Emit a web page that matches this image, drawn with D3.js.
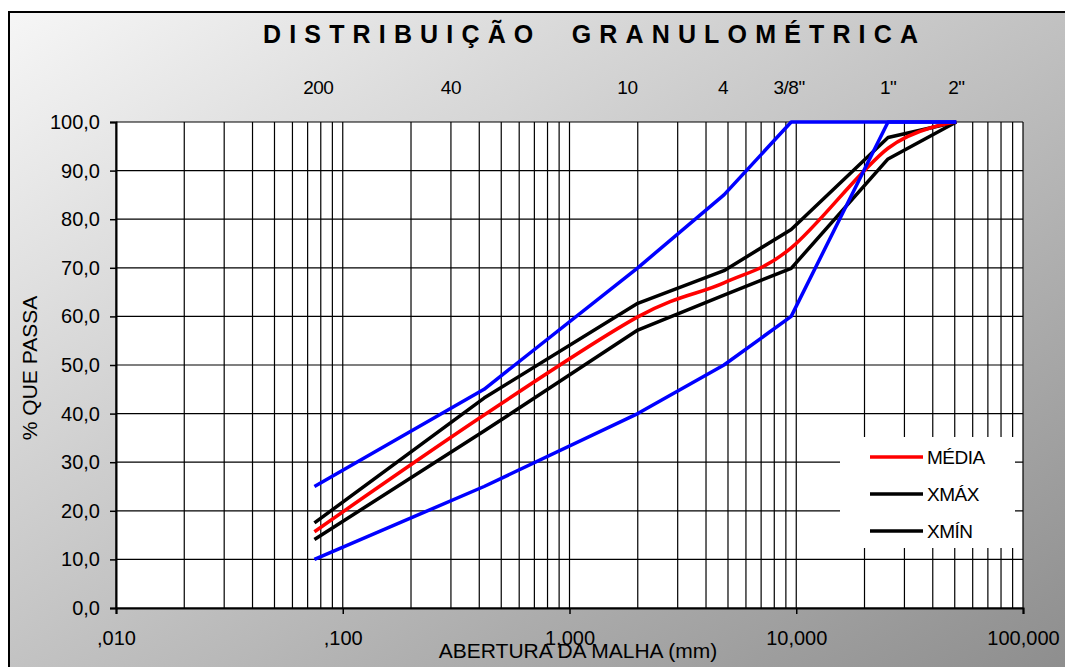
<!DOCTYPE html>
<html>
<head>
<meta charset="utf-8">
<script src="https://cdn.jsdelivr.net/npm/d3@7"></script>
<style>
  body { margin: 0; background: #fff; }
  text { font-family: "Liberation Sans", Arial, sans-serif; fill: #000; }
</style>
</head>
<body>
<div id="chart"></div>
<script>
// sieve openings (mm) used by every curve
var sieves = [0.075, 0.42, 2.0, 4.8, 9.5, 25.4, 50.8];

// % passing for each sieve
var media = [15.7, 39.7, 59.9, 66.9, 74.1, 94.6, 100];
var xmax  = [17.5, 43.2, 62.7, 69.4, 77.9, 96.8, 100];
var xmin  = [14.1, 36.4, 57.2, 64.4, 69.9, 92.4, 100];
var limSup = [25, 45, 70, 85, 100, 100, 100];
var limInf = [10, 25, 40, 50, 60, 100, 100];

// sieve names written along the top, and where they sit (mm)
var sieveLabels = ["200", "40", "10", "4", "3/8\"", "1\"", "2\""];
var sieveLabelAt = [0.078, 0.30, 1.8, 4.75, 9.3, 25.4, 50.8];

var xTicks = [0.01, 0.1, 1, 10, 100];
var xTickLabels = [",010", ",100", "1,000", "10,000", "100,000"];
var yTicks = [0, 10, 20, 30, 40, 50, 60, 70, 80, 90, 100];

var W = 1065, H = 667;
var margin = {top: 122, right: 42, bottom: 59, left: 116},
    width = W - margin.left - margin.right,
    height = H - margin.top - margin.bottom;

var svg = d3.select("#chart").append("svg")
    .attr("width", W)
    .attr("height", H);

var defs = svg.append("defs");
var grad = defs.append("linearGradient")
    .attr("id", "bg")
    .attr("x1", 0).attr("y1", 0).attr("x2", 1).attr("y2", 1);
grad.append("stop").attr("offset", "0%").attr("stop-color", "#f6f6f6");
grad.append("stop").attr("offset", "100%").attr("stop-color", "#8a8a8a");

svg.append("rect").attr("width", W).attr("height", H).attr("fill", "#fff");
svg.append("rect")
    .attr("x", 9).attr("y", 12)
    .attr("width", W + 20).attr("height", H + 20)
    .attr("fill", "url(#bg)")
    .attr("stroke", "#000")
    .attr("stroke-width", 2);

// title
svg.append("text")
    .attr("x", 263).attr("y", 43)
    .attr("textLength", 655)
    .attr("lengthAdjust", "spacing")
    .style("white-space", "pre")
    .style("font-size", "25px")
    .style("font-weight", "bold")
    .text("DISTRIBUIÇÃO  GRANULOMÉTRICA");

var x = d3.scaleLog().domain([0.01, 100]).range([0, width]);
var y = d3.scaleLinear().domain([0, 100]).range([height, 0]);

var g = svg.append("g")
    .attr("transform", "translate(" + margin.left + "," + margin.top + ")");

g.append("rect")
    .attr("width", width).attr("height", height)
    .attr("fill", "#fff");

// grid
var vgrid = [];
[0.01, 0.1, 1, 10].forEach(function(d) {
  for (var k = 1; k <= 9; k++) vgrid.push(d * k);
});
vgrid.push(100);

g.selectAll(".vg").data(vgrid).enter().append("line")
    .attr("x1", function(d) { return x(d); })
    .attr("x2", function(d) { return x(d); })
    .attr("y1", 0).attr("y2", height)
    .attr("stroke", "#000").attr("stroke-width", 1.2);

g.selectAll(".hg").data(yTicks).enter().append("line")
    .attr("x1", 0).attr("x2", width)
    .attr("y1", function(d) { return y(d); })
    .attr("y2", function(d) { return y(d); })
    .attr("stroke", "#000").attr("stroke-width", 1.2);

// axes
var yAxis = g.append("g")
    .call(d3.axisLeft(y).tickValues(yTicks).tickSize(6).tickPadding(10)
      .tickFormat(function(d) { return d3.format(".1f")(d).replace(".", ","); }));
var xAxis = g.append("g")
    .attr("transform", "translate(0," + height + ")")
    .call(d3.axisBottom(x).tickValues(xTicks).tickSize(6).tickPadding(17)
      .tickFormat(function(d, i) { return xTickLabels[i]; }));

[xAxis, yAxis].forEach(function(a) {
  a.select(".domain").attr("stroke", "#000").attr("stroke-width", 2);
  a.selectAll(".tick line").attr("stroke", "#000").attr("stroke-width", 1.5);
  a.selectAll("text").style("font-size", "20px").attr("font-family", null);
});

// sieve names on top
svg.selectAll(".sv").data(sieveLabels).enter().append("text")
    .attr("x", function(d, i) { return margin.left + x(sieveLabelAt[i]); })
    .attr("y", 94)
    .attr("text-anchor", "middle")
    .style("font-size", "19px")
    .style("letter-spacing", "-0.5px")
    .text(function(d) { return d; });

// axis titles
svg.append("text")
    .attr("transform", "translate(37,368) rotate(-90)")
    .attr("text-anchor", "middle")
    .style("font-size", "21px")
    .text("% QUE PASSA");

svg.append("text")
    .attr("x", 578).attr("y", 658)
    .attr("text-anchor", "middle")
    .style("font-size", "21px")
    .text("ABERTURA DA MALHA (mm)");

// curves
function pts(vals) {
  return sieves.map(function(s, i) { return [s, vals[i]]; });
}
var straight = d3.line()
    .x(function(d) { return x(d[0]); })
    .y(function(d) { return y(d[1]); });
var smooth = d3.line()
    .x(function(d) { return x(d[0]); })
    .y(function(d) { return y(d[1]); })
    .curve(d3.curveCardinal.tension(0));

var series = [
  {vals: xmax, color: "#000", line: straight},
  {vals: xmin, color: "#000", line: straight},
  {vals: media, color: "#ff0000", line: smooth},
  {vals: limSup, color: "#0000ff", line: straight},
  {vals: limInf, color: "#0000ff", line: straight}
];

g.selectAll(".curve").data(series).enter().append("path")
    .attr("d", function(d) { return d.line(pts(d.vals)); })
    .attr("fill", "none")
    .attr("stroke", function(d) { return d.color; })
    .attr("stroke-width", 3.5)
    .attr("stroke-linejoin", "round");

// legend
var legendNames = ["MÉDIA", "XMÁX", "XMÍN"];
var legendColors = ["#ff0000", "#000", "#000"];

var lg = svg.append("g").attr("transform", "translate(840,437)");
lg.append("rect").attr("width", 175).attr("height", 111).attr("fill", "#fff");
var row = lg.selectAll(".row").data(legendNames).enter().append("g")
    .attr("transform", function(d, i) { return "translate(0," + (20 + i * 37) + ")"; });
row.append("line")
    .attr("x1", 30).attr("x2", 83)
    .attr("stroke", function(d, i) { return legendColors[i]; })
    .attr("stroke-width", 3.5);
row.append("text")
    .attr("x", 87).attr("y", 7)
    .style("font-size", "19px")
    .style("letter-spacing", "-0.5px")
    .text(function(d) { return d; });
</script>
</body>
</html>
